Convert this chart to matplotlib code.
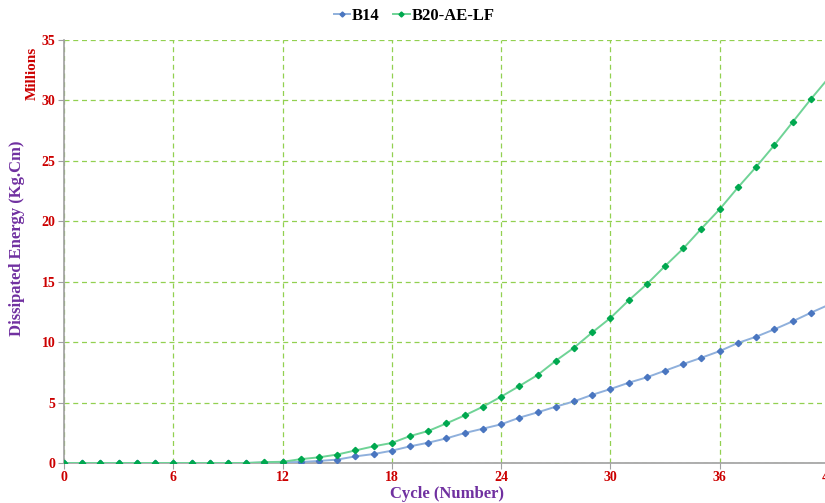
import numpy as np
import matplotlib.pyplot as plt

plt.rcParams['font.family'] = ['Liberation Serif', 'DejaVu Serif']
plt.rcParams['font.weight'] = 'bold'

cycles = list(range(0, 43))
b14 = [0, 0, 0, 0, 0, 0, 0, 0, 0, 0, 0, 0.04, 0.07,
       0.08, 0.17, 0.28, 0.55, 0.74, 1.02, 1.38, 1.68, 2.04, 2.48,
       2.84, 3.2, 3.75, 4.19, 4.66, 5.1, 5.64, 6.12, 6.64, 7.09,
       7.64, 8.19, 8.71, 9.26, 9.93, 10.45, 11.06, 11.72, 12.43, 13.1]
b20 = [0, 0, 0, 0, 0, 0, 0, 0, 0, 0, 0, 0.07, 0.1,
       0.32, 0.47, 0.7, 1.04, 1.38, 1.66, 2.23, 2.65, 3.28, 3.94,
       4.66, 5.49, 6.37, 7.28, 8.46, 9.54, 10.8, 12.0, 13.45, 14.8,
       16.3, 17.75, 19.4, 21.0, 22.8, 24.5, 26.3, 28.2, 30.1, 31.9]
series_names = ["B14", "B20-AE-LF"]
x_ticks = [0, 6, 12, 18, 24, 30, 36, 42]
y_ticks = [0, 5, 10, 15, 20, 25, 30, 35]

red = "#cc0000"
purple = "#7030a0"
grid_green = "#92d050"

fig = plt.figure(figsize=(8.25, 5.03), dpi=100)
ax = fig.add_axes([64 / 825, 40 / 503, 765 / 825, 423 / 503])

ax.plot(cycles, b14, color="#8fb0dc", lw=1.4, marker="D", ms=3.2,
        mfc="#4a76c0", mec="#4a76c0", label=series_names[0], zorder=3)
ax.plot(cycles, b20, color="#6fd396", lw=1.4, marker="D", ms=3.2,
        mfc="#00a84f", mec="#00a84f", label=series_names[1], zorder=3)

ax.set_xlim(0, 42)
ax.set_ylim(0, 35)
ax.set_xticks(x_ticks)
ax.set_yticks(y_ticks)
ax.grid(True, color=grid_green, linestyle=(0, (4, 3)), lw=0.9)
ax.set_axisbelow(True)

for s in ["top", "right"]:
    ax.spines[s].set_visible(False)
for s in ["left", "bottom"]:
    ax.spines[s].set_color("#a0a0a0")
    ax.spines[s].set_linewidth(1.2)

ax.tick_params(axis="both", colors="#a0a0a0", length=4, labelsize=10,
               labelcolor=red)
ax.tick_params(axis="y", pad=2)
ax.tick_params(axis="x", pad=2)
for lab in ax.get_xticklabels() + ax.get_yticklabels():
    lab.set_fontweight("bold")

ax.set_xlabel("Cycle (Number)", color=purple, fontsize=12, fontweight="bold",
              labelpad=1)
fig.text(17 / 825, 1 - 238 / 503, "Dissipated Energy (Kg.Cm)", rotation=90,
         color=purple, fontsize=12, fontweight="bold", ha="center", va="center")
fig.text(32 / 825, 1 - 73 / 503, "Millions", rotation=90, color=red,
         fontsize=11, fontweight="bold", ha="center", va="center")

leg = fig.legend(loc="center", bbox_to_anchor=(414 / 825, 1 - 16 / 503),
                 ncol=2, frameon=False, fontsize=12, handlelength=1.0,
                 handletextpad=0.1, columnspacing=0.8, markerscale=0.8)
for t in leg.get_texts():
    t.set_fontweight("bold")

fig.savefig("out.png", dpi=100)
